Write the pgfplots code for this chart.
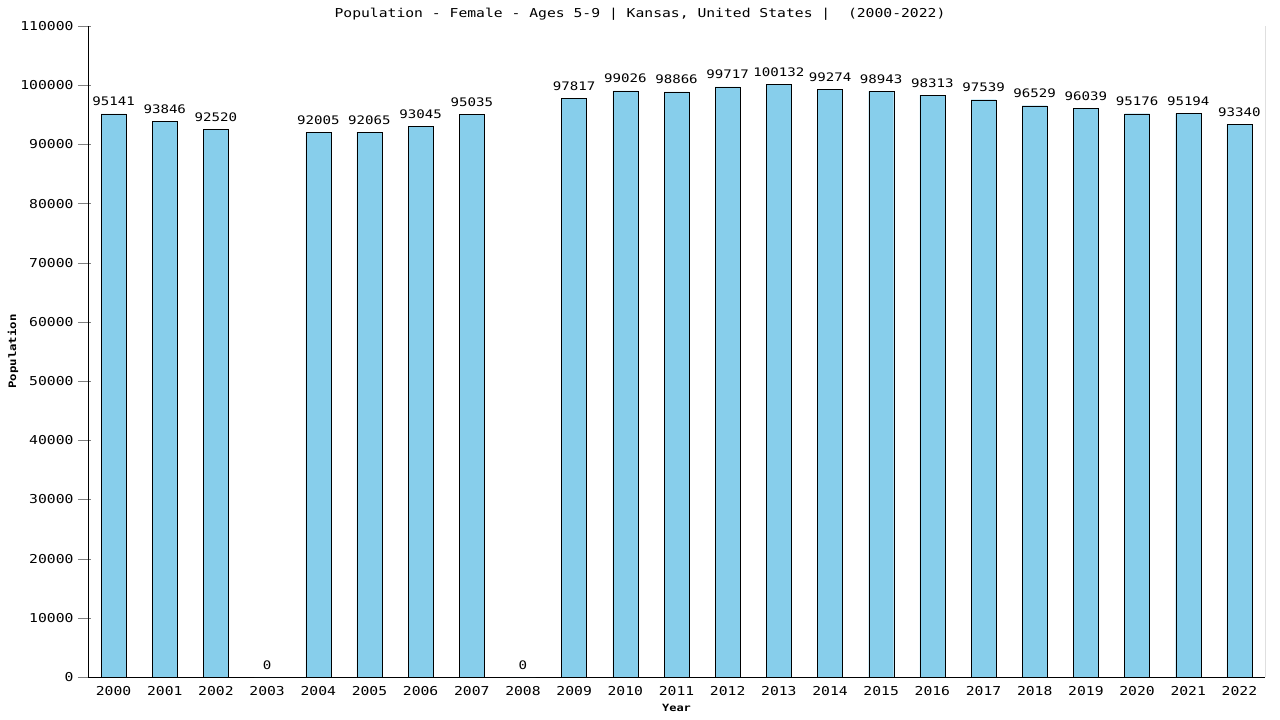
\documentclass[border=0pt]{standalone}
\usepackage{pgfplots}
\pgfplotsset{compat=1.18}
\usepackage{fontspec}
\setmainfont{DejaVu Sans Mono}[FakeStretch=1.2]
\definecolor{barblue}{HTML}{87CEEB}
\begin{document}
\begin{tikzpicture}
\path[use as bounding box] (0,0) rectangle (1280bp,720bp);
\begin{axis}[
    at={(88bp,43bp)}, anchor=south west,
    scale only axis, width=1177bp, height=651bp,
    ybar, bar width=25bp,
    xmin=-0.5, xmax=22.5, ymin=0, ymax=110000,
    axis x line*=bottom, axis y line*=left,
    xtick={0,...,22},
    xticklabels={2000,2001,2002,2003,2004,2005,2006,2007,2008,2009,2010,2011,2012,2013,2014,2015,2016,2017,2018,2019,2020,2021,2022},
    xtick style={draw=none},
    ytick={0,10000,...,110000},
    scaled y ticks=false,
    ytick style={xshift=3bp},
    tick align=outside, major tick length=13bp,
    ticklabel style={font=\fontsize{12.3}{14}\selectfont},
    xticklabel style={yshift=7bp},
    yticklabel style={xshift=2bp, /pgf/number format/.cd, fixed, precision=0, set thousands separator={}, assume math mode=true},
    title={Population - Female - Ages 5-9 | Kansas, United States |\ \ (2000-2022)},
    title style={at={(axis description cs:0.469,1)}, anchor=base, yshift=3bp, font=\fontsize{12.3}{14}\selectfont},
    xlabel={Year},
    every axis x label/.style={at={(axis description cs:0.5,0)}, anchor=center, yshift=-31bp, font=\bfseries\fontsize{10}{11}\selectfont},
    ylabel={Population},
    every axis y label/.style={at={(axis description cs:-0.0637,0.5)}, anchor=center, rotate=90, font=\bfseries\fontsize{10.3}{11}\selectfont},
    nodes near coords={\pgfmathprintnumber[fixed,precision=0,set thousands separator={},assume math mode=true]{\pgfplotspointmeta}},
    nodes near coords style={anchor=base, yshift=8bp, font=\fontsize{11.8}{14}\selectfont},
]
\addplot[fill=barblue, draw=black] coordinates {
(0,95141) (1,93846) (2,92520) (3,0) (4,92005) (5,92065) (6,93045) (7,95035)
(8,0) (9,97817) (10,99026) (11,98866) (12,99717) (13,100132) (14,99274)
(15,98943) (16,98313) (17,97539) (18,96529) (19,96039) (20,95176) (21,95194) (22,93340)
};
\draw (rel axis cs:1,0) -- (rel axis cs:1,1);
\end{axis}
\end{tikzpicture}
\end{document}
